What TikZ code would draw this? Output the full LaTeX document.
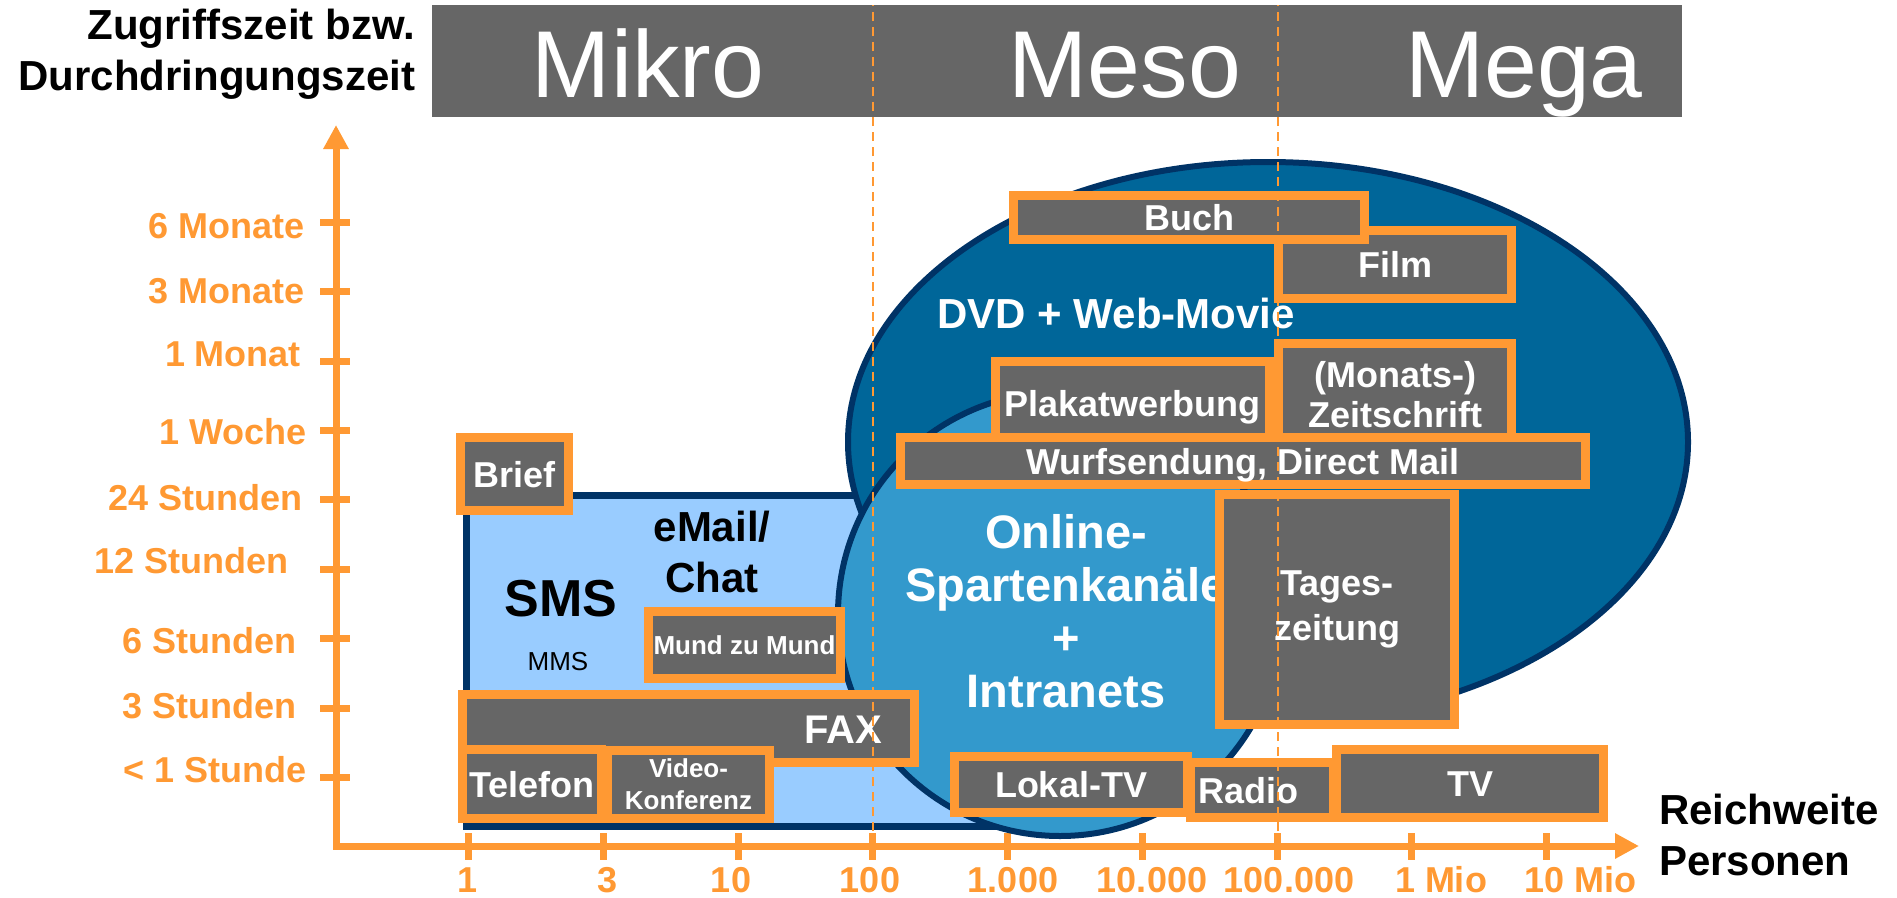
\documentclass[tikz,border=0pt]{standalone}
\usepackage{fontspec}
\setmainfont{Liberation Sans}
\usepackage{xcolor}
\usepackage{tikz}
\usetikzlibrary{arrows.meta, positioning}

\definecolor{mediaorange}{HTML}{FF9933}
\definecolor{mediagray}{HTML}{666666}
\definecolor{navyline}{HTML}{003366}
\definecolor{megablue}{HTML}{006699}
\definecolor{mesoblue}{HTML}{3399CC}
\definecolor{mikroblue}{HTML}{99CCFF}

\begin{document}
\begin{tikzpicture}[
  x=1pt, y=-1pt, inner sep=0pt, outer sep=0pt,
  medium/.style={rectangle, draw=mediaorange, fill=mediagray, line width=9pt,
    text=white, align=center, font=\fontsize{36}{40}\selectfont\bfseries},
  oneline/.style={text height=26pt, text depth=0pt},
  small/.style={font=\fontsize{26}{32}\selectfont\bfseries},
  ylabel/.style={anchor=east, oneline, text=mediaorange, font=\fontsize{36}{40}\selectfont\bfseries},
  xlabel/.style={oneline, text=mediaorange, font=\fontsize{36}{40}\selectfont\bfseries},
  axisline/.style={mediaorange, line width=7pt,
    {Triangle[length=24pt, width=24pt]}-{Triangle[length=24pt, width=24pt]}},
  tickmark/.style={mediaorange, line width=7pt},
  zone/.style={draw=navyline, line width=6pt},
  scalemark/.style={mediaorange, line width=2.5pt, dash pattern=on 9pt off 6pt},
  headline/.style={text=white, anchor=base, font=\fontsize{95}{100}\selectfont},
  caption/.style={font=\fontsize{42}{51}\selectfont\bfseries}
]
  \useasboundingbox (0,0) rectangle (1897,897);

  % Kopfleiste
  \fill[mediagray] (432,5) rectangle (1682,117);
  \node[headline] (mikro) at (648,97) {Mikro};
  \node[headline] (meso) at (1125,97) {Meso};
  \node[headline] (mega) at (1524,97) {Mega};
  \node[caption, align=right, anchor=east] (zeit) at (415,54.5) {Zugriffszeit bzw.\\Durchdringungszeit};

  % Achsen
  \coordinate (origin) at (336,846);
  \coordinate (yend) at (336,125);
  \coordinate (xend) at (1639,846);
  \draw[axisline] (yend) -- (origin) -- (xend);

  \draw[tickmark] (320,222) -- (350,222);
  \draw[tickmark] (320,291) -- (350,291);
  \draw[tickmark] (320,361) -- (350,361);
  \draw[tickmark] (320,430) -- (350,430);
  \draw[tickmark] (320,499) -- (350,499);
  \draw[tickmark] (320,569) -- (350,569);
  \draw[tickmark] (320,638) -- (350,638);
  \draw[tickmark] (320,708) -- (350,708);
  \draw[tickmark] (320,777) -- (350,777);

  \draw[tickmark] (468,833) -- (468,860);
  \draw[tickmark] (603,833) -- (603,860);
  \draw[tickmark] (738,833) -- (738,860);
  \draw[tickmark] (872,833) -- (872,860);
  \draw[tickmark] (1007,833) -- (1007,860);
  \draw[tickmark] (1142,833) -- (1142,860);
  \draw[tickmark] (1277,833) -- (1277,860);
  \draw[tickmark] (1411,833) -- (1411,860);
  \draw[tickmark] (1546,833) -- (1546,860);

  \node[ylabel] (lab6m) at (305,225) {6 Monate};
  \node[ylabel] (lab3m) at (305,290) {3 Monate};
  \node[ylabel] (lab1m) at (301,353) {1 Monat};
  \node[ylabel] (lab1w) at (307,431) {1 Woche};
  \node[ylabel] (lab24h) at (303,497) {24 Stunden};
  \node[ylabel] (lab12h) at (289,560) {12 Stunden};
  \node[ylabel] (lab6h) at (297,640) {6 Stunden};
  \node[ylabel] (lab3h) at (297,705) {3 Stunden};
  \node[ylabel] (lab1h) at (307,769) {< 1 Stunde};

  \node[xlabel] (lab1) at (468,879) {1};
  \node[xlabel] (lab3) at (608,879) {3};
  \node[xlabel] (lab10) at (731,879) {10};
  \node[xlabel] (lab100) at (870,879) {100};
  \node[xlabel] (lab1k) at (1013,879) {1.000};
  \node[xlabel] (lab10k) at (1152,879) {10.000};
  \node[xlabel] (lab100k) at (1289,879) {100.000};
  \node[xlabel] (lab1mio) at (1441,879) {1 Mio};
  \node[xlabel] (lab10mio) at (1580,879) {10 Mio};

  \node[caption, align=left, anchor=west] (reich) at (1659,834.5) {Reichweite\\Personen};

  % Bereiche
  \draw[zone, line width=7pt, fill=mikroblue] (466,495) rectangle (1060,826);
  \draw[zone, fill=megablue] (1268,442) ellipse [x radius=420pt, y radius=280pt];
  \draw[zone, fill=mesoblue] (1060,614) circle [radius=222pt];

  \node[anchor=base, font=\fontsize{52}{60}\selectfont\bfseries] (sms) at (561,616) {SMS};
  \node[anchor=base, font=\fontsize{26}{30}\selectfont] (mms) at (558,670) {MMS};
  \node[caption, align=center] (email) at (712,552) {eMail/\\Chat};
  \node[caption, text=white, anchor=base] (dvd) at (1116,328) {DVD + Web-Movie};
  \node[text=white, align=center, font=\fontsize{47}{53}\selectfont\bfseries] (online)
    at (1066,611) {Online-\\Spartenkanäle\\+\\Intranets};

  % Medien
  \node[medium, oneline, minimum width=108, minimum height=73] (brief) at (514.5,474) {Brief};
  \node[medium, oneline, small, text height=19pt, minimum width=192, minimum height=67] (mund) at (744.5,645) {Mund zu Mund};
  \node[medium, font=\fontsize{40}{44}\selectfont\bfseries, text height=29pt, text depth=0pt,
    text width=387, align=right, minimum width=452, minimum height=68] (fax) at (688.5,728.5) {FAX};
  \node[medium, oneline, minimum width=139, minimum height=69] (telefon) at (532,784) {Telefon};
  \node[medium, small, minimum width=162, minimum height=68] (video) at (688.5,784.5) {Video-\\Konferenz};
  \node[medium, oneline, minimum width=233, minimum height=68] (film) at (1395,264.5) {Film};
  \node[medium, oneline, minimum width=351, minimum height=44] (buch) at (1189,217.5) {Buch};
  \node[medium, oneline, minimum width=274, minimum height=84] (plakat) at (1132.5,403.5) {Plakatwerbung};
  \node[medium, minimum width=233, minimum height=102] (monats) at (1395,394.5) {(Monats-)\\Zeitschrift};
  \node[medium, oneline, minimum width=685, minimum height=47] (wurf) at (1243,461) {Wurfsendung, Direct Mail};
  \node[medium, font=\fontsize{36}{45}\selectfont\bfseries, minimum width=235, minimum height=230] (tages) at (1337,609.5) {Tages-\\zeitung};
  \node[medium, oneline, text width=127, align=left, minimum width=143, minimum height=55] (radio) at (1262,790) {Radio};
  \node[medium, oneline, minimum width=233, minimum height=56] (lokaltv) at (1071,784.5) {Lokal-TV};
  \node[medium, oneline, minimum width=267, minimum height=68] (tv) at (1470,783.5) {TV};

  % Grenzen Mikro/Meso/Mega
  \coordinate (t100) at (873,846);
  \coordinate (t100k) at (1278,846);
  \draw[scalemark] (t100) -- ++(0,-841);
  \draw[scalemark] (t100k) -- ++(0,-841);
\end{tikzpicture}
\end{document}
